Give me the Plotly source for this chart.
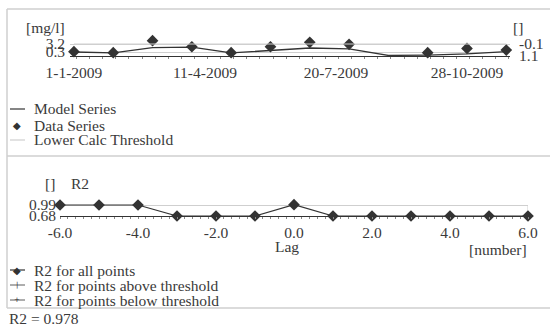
import plotly.graph_objects as go

# ---- data -------------------------------------------------------------
sample_dates = ["2009-01-01", "2009-01-31", "2009-03-02", "2009-04-01",
                "2009-05-01", "2009-05-31", "2009-06-30", "2009-07-30",
                "2009-09-28", "2009-10-28", "2009-11-27"]
data_values = [0.4, 0.05, 4.4, 2.2, 0.05, 2.2, 3.8, 3.1, 0.05, 1.6, 1.0]

model_dates = ["2009-01-01", "2009-01-31", "2009-03-02", "2009-04-01",
               "2009-05-01", "2009-05-31", "2009-06-30", "2009-07-30",
               "2009-08-29", "2009-09-28", "2009-10-28", "2009-11-27"]
model_values = [0.3, -0.05, 1.9, 2.1, -0.05, 0.85, 1.75, 1.4,
                -0.95, -0.8, -0.4, 0.45]

threshold_dates = ["2009-01-01", "2009-11-27"]
threshold_values = [-0.1, -0.1]

lags = [-6, -5, -4, -3, -2, -1, 0, 1, 2, 3, 4, 5, 6]
r2_all = [0.99, 0.99, 0.99, 0.68, 0.68, 0.68, 1.0, 0.68, 0.68, 0.68,
          0.68, 0.68, 0.68]
r2_total = 0.978

conc_ticks = [0.3, 3.2]
thr_ticks = [-0.1, 1.1]
lag_ticks = [-6, -4, -2, 0, 2, 4, 6]
r2_ticks = [0.68, 0.99]

# ---- styling ------------------------------------------------------------
W, H = 550, 327
FONT = "Liberation Serif"
FS = 15.5
TXT = "#3a3a3a"
DARK = "#333333"
LIGHT = "#cfcfcf"


def px(x):
    return x / W


def py(y):
    return 1 - y / H


# vertical extents (pixels) of the two framed strips
TOP_Y = (44, 56)
LAG_Y = (205, 216)
HEADROOM = 7          # marks may rise a little above each strip

# concentration axis: 3.2 at the strip top, 0.3 eight pixels below it
c_per_px = (conc_ticks[1] - conc_ticks[0]) / 8.0
c_lo = conc_ticks[0] - 4 * c_per_px
c_hi = conc_ticks[1] + HEADROOM * c_per_px
# threshold axis (reversed)
t_per_px = (thr_ticks[1] - thr_ticks[0]) / (TOP_Y[1] - TOP_Y[0])
t_top = thr_ticks[0] - HEADROOM * t_per_px
# R2 axis
r_per_px = (r2_ticks[1] - r2_ticks[0]) / (LAG_Y[1] - LAG_Y[0])
r_hi = r2_ticks[1] + HEADROOM * r_per_px

date_range = ["2008-12-29", "2009-11-29 20:00"]
lag_range = [lag_ticks[0], lag_ticks[-1]]

fig = go.Figure()

fig.add_trace(go.Scatter(x=model_dates, y=model_values, mode="lines",
                         line=dict(color=DARK, width=1.3),
                         xaxis="x", yaxis="y", showlegend=False))
fig.add_trace(go.Scatter(x=threshold_dates, y=threshold_values, mode="lines",
                         line=dict(color=LIGHT, width=1),
                         xaxis="x", yaxis="y2", showlegend=False))
fig.add_trace(go.Scatter(x=sample_dates, y=data_values, mode="markers",
                         marker=dict(symbol="diamond", size=9, color=DARK),
                         cliponaxis=False,
                         xaxis="x", yaxis="y", showlegend=False))

fig.add_trace(go.Scatter(x=lags, y=r2_all, mode="lines+markers",
                         line=dict(color=DARK, width=1.2),
                         marker=dict(symbol="diamond", size=9, color=DARK),
                         cliponaxis=False,
                         xaxis="x3", yaxis="y3", showlegend=False))

tickfont = dict(family=FONT, size=FS, color=TXT)
top_dom = [py(TOP_Y[1]), py(TOP_Y[0] - HEADROOM)]
lag_dom = [py(LAG_Y[1]), py(LAG_Y[0] - HEADROOM)]

fig.update_layout(
    template="none",
    width=W, height=H,
    margin=dict(l=0, r=0, t=0, b=0, pad=0, autoexpand=False),
    paper_bgcolor="white", plot_bgcolor="white",
    font=dict(family=FONT, size=FS, color=TXT),
    xaxis=dict(domain=[px(70), px(510)], anchor="y", type="date",
               automargin=False, range=date_range,
               tick0="2009-01-01", dtick=100 * 86400000,
               tickformat="%-d-%-m-%Y", tickfont=tickfont,
               showgrid=False, showline=True, linecolor=DARK, linewidth=1,
               ticks="", zeroline=False, ticklabelstandoff=2,
               minor=dict(dtick=10 * 86400000, ticks="outside", ticklen=2,
                          tickcolor="#888888", showgrid=False)),
    yaxis=dict(domain=top_dom, anchor="x", automargin=False,
               range=[c_lo, c_hi], tickmode="array", tickvals=conc_ticks,
               ticktext=["%.1f" % v for v in conc_ticks], tickfont=tickfont,
               showgrid=True, gridcolor=LIGHT, gridwidth=1,
               zeroline=False, showline=False, ticks="",
               ticklabelstandoff=4),
    yaxis2=dict(domain=top_dom, anchor="x", overlaying="y",
                automargin=False, side="right",
                range=[thr_ticks[1], t_top], tickmode="array",
                tickvals=thr_ticks, ticktext=["%.1f" % v for v in thr_ticks],
                tickfont=tickfont, showgrid=False, zeroline=False,
                showline=False, ticks="", ticklabelstandoff=8),
    xaxis3=dict(domain=[px(60), px(528)], anchor="y3", range=lag_range,
                automargin=False, tickmode="array", tickvals=lag_ticks,
                ticktext=["%.1f" % v for v in lag_ticks],
                tickfont=tickfont, showgrid=False,
                showline=True, linecolor=DARK, linewidth=1, zeroline=False,
                ticks="", ticklabelstandoff=2,
                minor=dict(dtick=0.2, ticks="outside", ticklen=2,
                           tickcolor="#888888", showgrid=False)),
    yaxis3=dict(domain=lag_dom, anchor="x3", range=[r2_ticks[0], r_hi],
                automargin=False, tickmode="array", tickvals=r2_ticks,
                ticktext=["%.2f" % v for v in r2_ticks], tickfont=tickfont,
                showgrid=True, gridcolor=LIGHT, zeroline=False,
                showline=False, ticks="", ticklabelstandoff=3),
)

# right edge of the lag frame
fig.add_shape(type="line", xref="x3", yref="y3",
              x0=lag_ticks[-1], x1=lag_ticks[-1],
              y0=r2_ticks[0], y1=r2_ticks[1],
              line=dict(color=LIGHT, width=1), layer="below")

# outer frame and separators
frame = dict(type="line", xref="paper", yref="paper",
             line=dict(color=LIGHT, width=1.5))
fig.add_shape(**frame, x0=px(7), x1=1, y0=py(9), y1=py(9))
fig.add_shape(**frame, x0=px(7), x1=px(7), y0=py(9), y1=py(308))
fig.add_shape(**frame, x0=px(7), x1=1, y0=py(156), y1=py(156))
fig.add_shape(**frame, x0=px(7), x1=1, y0=py(308), y1=py(308))


def label(text, x, y, xanchor="left", size=FS):
    fig.add_annotation(text=text, x=px(x), y=py(y), xref="paper",
                       yref="paper", xanchor=xanchor, yanchor="middle",
                       showarrow=False, font=dict(family=FONT, size=size,
                                                  color=TXT))


# axis unit labels
label("[mg/l]", 24, 28)
label("[]", 511, 28)
label("[]", 43, 183)
label("R2", 69, 183)
label("Lag", 287, 247, xanchor="center")
label("[number]", 529, 249, xanchor="right")


def legend_line(y, color, width=1.2):
    fig.add_shape(type="line", xref="paper", yref="paper",
                  x0=px(10), x1=px(25), y0=py(y), y1=py(y),
                  line=dict(color=color, width=width))


def legend_mark(y, char, size):
    fig.add_annotation(text=char, x=px(17), y=py(y), xref="paper",
                       yref="paper", xanchor="center", yanchor="middle",
                       showarrow=False,
                       font=dict(family="DejaVu Sans", size=size, color=DARK))


# legend of the time-series panel
legend_line(109, DARK)
label("Model Series", 32, 109)
legend_mark(125, "◆", 10)
label("Data Series", 32, 125)
legend_line(140, LIGHT)
label("Lower Calc Threshold", 32, 140)

# legend of the lag panel
legend_line(270, DARK)
legend_mark(270, "◆", 10)
label("R2 for all points", 32, 270)
legend_line(285, DARK, 0.8)
legend_mark(285, "|", 7)
label("R2 for points above threshold", 32, 285)
legend_line(300, DARK, 0.8)
legend_mark(300, "+", 7)
label("R2 for points below threshold", 32, 300)

label("R2 = %.3f" % r2_total, 7, 318)

fig.write_html("out.html")
